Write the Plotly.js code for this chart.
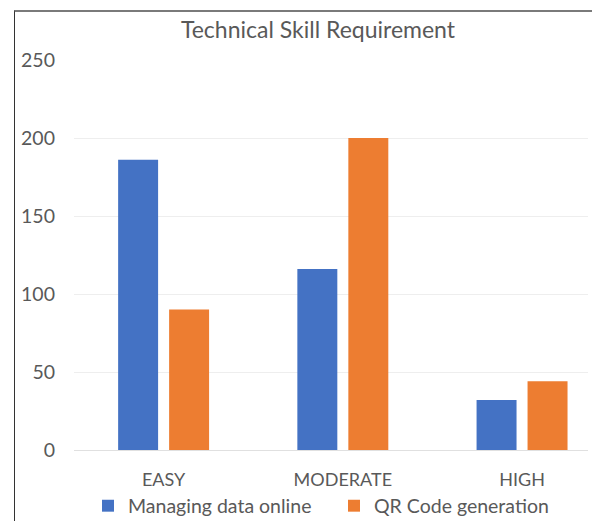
<!DOCTYPE html>
<html>
<head>
<meta charset="utf-8">
<script src="https://cdn.plot.ly/plotly-3.0.1.min.js"></script>
<style>
html,body{margin:0;padding:0;background:#fff;}
#wrap{position:relative;width:592px;height:521px;overflow:hidden;}
#chart{position:absolute;left:0;top:0;width:592px;height:521px;}
#frame{position:absolute;left:14px;top:10px;width:600px;height:520px;border-top:2px solid #7a7a7a;border-left:1.5px solid #333;pointer-events:none;}
</style>
</head>
<body>
<div id="wrap"><div id="chart"></div><div id="frame"></div></div>
<script>
const categories = ["EASY", "MODERATE", "HIGH"];
const managingData = [186, 116, 32];
const qrCode = [90, 200, 44];
const seriesNames = ["Managing data online", "QR Code generation"];
const yTicks = [0, 50, 100, 150, 200, 250];

const font = "Lato, 'Open Sans', sans-serif";
const traces = [
  {type: "bar", name: seriesNames[0], x: categories, y: managingData, marker: {color: "#4472C4"}, hoverinfo: "y"},
  {type: "bar", name: seriesNames[1], x: categories, y: qrCode, marker: {color: "#ED7D31"}, hoverinfo: "y"}
];
const layout = {
  width: 592, height: 521,
  margin: {l: 74, r: 4, t: 60, b: 71, pad: 0},
  paper_bgcolor: "#ffffff", plot_bgcolor: "#ffffff",
  font: {family: font, color: "#595959"},
  title: {text: "Technical Skill Requirement", font: {family: font, size: 23, color: "#595959"},
          x: 318/592, xref: "container", xanchor: "center", y: 1 - 30/521, yref: "container", yanchor: "middle"},
  barmode: "group", bargap: 0.431, bargroupgap: 0.216,
  xaxis: {type: "category", range: [-0.5, 2.368], showgrid: false, zeroline: false, showline: false, automargin: false,
          ticks: "", tickfont: {family: font, size: 18, color: "#595959"}, ticklabelstandoff: 17, fixedrange: true},
  yaxis: {range: [0, 250], tickvals: yTicks, showgrid: true, gridcolor: "#eeeeee", gridwidth: 1, automargin: false,
          zeroline: true, zerolinecolor: "#e0e0e0", zerolinewidth: 1, showline: false, ticks: "",
          tickfont: {family: font, size: 19.5, color: "#595959"}, ticklabelstandoff: 18, fixedrange: true},
  showlegend: true,
  legend: {orientation: "h", xref: "container", x: 88/592, xanchor: "left",
           yref: "container", y: 1 - 506/521, yanchor: "middle",
           font: {family: font, size: 19.5, color: "#595959"}, itemwidth: 30,
           entrywidth: 201, entrywidthmode: "pixels", traceorder: "normal"}
};
Plotly.newPlot("chart", traces, layout, {displayModeBar: false, staticPlot: true});
</script>
</body>
</html>
